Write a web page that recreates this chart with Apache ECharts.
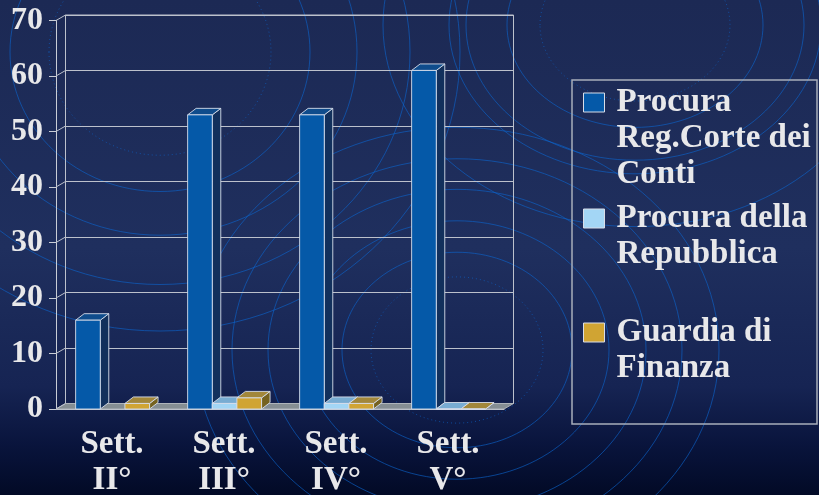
<!DOCTYPE html>
<html>
<head>
<meta charset="utf-8">
<script src="https://cdn.jsdelivr.net/npm/echarts@6/dist/echarts.min.js"></script>
<style>
  html, body { margin: 0; padding: 0; background: #0c1638; }
  #chart { width: 819px; height: 495px; }
</style>
</head>
<body>
<div id="chart"></div>
<script>
// Weekly counts per reporting body
const categories = ['Sett.\nII°', 'Sett.\nIII°', 'Sett.\nIV°', 'Sett.\nV°'];
const seriesNames = ['Procura\nReg.Corte dei\nConti', 'Procura della\nRepubblica', 'Guardia di\nFinanza'];
const corteConti = [16, 53, 53, 61];
const procuraRepubblica = [null, 1, 1, 0];
const guardiaFinanza = [1, 2, 1, 0];
const yTicks = [0, 10, 20, 30, 40, 50, 60, 70];

// Pseudo-3D geometry (pixel offsets of the depth direction)
const WALL = { dx: 9.5, dy: -5.5 };
const BAR_DEPTH = { dx: 8.5, dy: -6.5 };
const BAR_RATIO = 0.22;
const BAR_SHIFT = 0.6;
const EDGE = 'rgba(214,221,234,0.9)';
const LINE = '#bcc1cc';
const TEXT = '#e8e8ea';
const FONT = 'Liberation Serif';

const faces = [
  { front: '#0559a8', top: '#0f4c8c', side: '#12305c' },
  { front: '#a3d6f5', top: '#78acd2', side: '#5b87ad' },
  { front: '#d0a433', top: '#a2873a', side: '#75621f' }
];
const seriesValues = [corteConti, procuraRepubblica, guardiaFinanza];

function barRenderer(sIdx) {
  const f = faces[sIdx];
  return function (params, api) {
    const val = api.value(1);
    if (val == null || isNaN(val)) return null;
    const cat = api.value(0);
    const band = api.size([1, 0])[0];
    const w = band * BAR_RATIO;
    const base = api.coord([cat, 0]);
    const top = api.coord([cat, val]);
    const xL = base[0] + (sIdx - 1.5) * w + BAR_SHIFT;
    const xR = xL + w;
    const yB = base[1], yT = top[1];
    const dx = BAR_DEPTH.dx, dy = BAR_DEPTH.dy;
    return {
      type: 'group',
      children: [
        { type: 'polygon', shape: { points: [[xR, yB], [xR + dx, yB + dy], [xR + dx, yT + dy], [xR, yT]] },
          style: { fill: f.side, stroke: EDGE, lineWidth: 1 } },
        { type: 'polygon', shape: { points: [[xL, yT], [xR, yT], [xR + dx, yT + dy], [xL + dx, yT + dy]] },
          style: { fill: f.top, stroke: EDGE, lineWidth: 1 } },
        { type: 'rect', shape: { x: xL, y: yT, width: w, height: yB - yT },
          style: { fill: f.front, stroke: EDGE, lineWidth: 1 } }
      ]
    };
  };
}

// Background rings
const ringGroups = [
  { cx: 160, cy: 52, ratio: 0.93, radii: [111, 150, 197, 250, 300], dotted: 0 },
  { cx: 635, cy: 25, ratio: 0.8, radii: [95, 128, 169, 186, 252], dotted: 0 },
  { cx: 457, cy: 350, ratio: 0.85, radii: [86, 115, 152, 189, 225, 262], dotted: 0 }
];
const rings = [];
ringGroups.forEach(g => {
  g.radii.forEach((r, i) => {
    rings.push({
      type: 'ellipse', silent: true, z: -5,
      shape: { cx: g.cx, cy: g.cy, rx: r, ry: r * g.ratio },
      style: { fill: 'none', stroke: 'rgba(12,100,205,0.62)', lineWidth: 1, lineDash: i === g.dotted ? [1, 3] : null }
    });
  });
});

// One legend per series so the icon sits beside the first line of its label
const legendTops = [12.5, 164.5, 278.5];
const legends = seriesNames.map((name, i) => {
  const lines = name.split('\n').length;
  return {
    data: [name],
    left: 583, top: legendTops[i], padding: 0,
    icon: 'rect', itemWidth: 21, itemHeight: 19,
    itemStyle: { borderColor: '#d8dde8', borderWidth: 1 },
    selectedMode: false,
    formatter: n => '\n'.repeat(lines - 1) + n,
    textStyle: { fontFamily: FONT, fontWeight: 'bold', fontSize: 33, color: TEXT, lineHeight: 36, padding: [0, 0, 0, 7] }
  };
});

const chart = echarts.init(document.getElementById('chart'), null, { renderer: 'canvas' });
chart.setOption({
  animation: false,
  backgroundColor: {
    type: 'linear', x: 0, y: 0, x2: 0, y2: 1,
    colorStops: [
      { offset: 0, color: '#1c2954' },
      { offset: 0.5, color: '#1f2f5e' },
      { offset: 0.78, color: '#162453' },
      { offset: 0.9, color: '#09143c' },
      { offset: 1, color: '#020a26' }
    ]
  },
  graphic: rings.concat([
    { type: 'rect', silent: true, shape: { x: 572, y: 80, width: 245, height: 344 },
      style: { fill: 'none', stroke: '#a8aebb', lineWidth: 1.5 } }
  ]),
  legend: legends,
  grid: [
    { left: 56, top: 20.5, width: 448, height: 388.5, outerBoundsMode: 'none', containLabel: false },
    { left: 56 + WALL.dx, top: 20.5 + WALL.dy, width: 448, height: 388.5, outerBoundsMode: 'none', containLabel: false,
      show: true, borderColor: LINE, borderWidth: 1, backgroundColor: 'transparent' }
  ],
  xAxis: [
    { gridIndex: 0, type: 'category', data: categories,
      axisLine: { lineStyle: { color: '#c9cdd6', width: 1 } },
      axisTick: { length: 6, lineStyle: { color: '#c9cdd6' } },
      axisLabel: { interval: 0, margin: 17, fontFamily: FONT, fontWeight: 'bold', fontSize: 33, color: TEXT, lineHeight: 36 } },
    { gridIndex: 1, type: 'category', data: categories, show: false }
  ],
  yAxis: [
    { gridIndex: 0, type: 'value', min: 0, max: 70, interval: 10,
      axisLine: { show: true, lineStyle: { color: '#c9cdd6', width: 1 } },
      axisTick: { show: true, length: 7, lineStyle: { color: '#c9cdd6' } },
      axisLabel: { margin: 13, fontFamily: FONT, fontWeight: 'bold', fontSize: 32, color: TEXT },
      splitLine: { show: false } },
    { gridIndex: 1, type: 'value', min: 0, max: 70, interval: 10,
      axisLine: { show: false }, axisTick: { show: false }, axisLabel: { show: false },
      splitLine: { show: true, lineStyle: { color: LINE, width: 1 } } }
  ],
  series: [
    { type: 'custom', name: 'floor', silent: true, xAxisIndex: 0, yAxisIndex: 0,
      data: [[0, 0]],
      renderItem: function (params, api) {
        const cs = params.coordSys;
        const y0 = api.coord([0, 0])[1];
        return { type: 'polygon',
          shape: { points: [[cs.x, y0], [cs.x + cs.width, y0], [cs.x + cs.width + WALL.dx, y0 + WALL.dy], [cs.x + WALL.dx, y0 + WALL.dy]] },
          style: { fill: '#858e93', stroke: '#aeb4ba', lineWidth: 1 } };
      } },
    { type: 'custom', name: 'wall', silent: true, xAxisIndex: 0, yAxisIndex: 0,
      data: yTicks.map(v => [0, v]),
      renderItem: function (params, api) {
        const cs = params.coordSys;
        const y = api.coord([0, api.value(1)])[1];
        return { type: 'line', shape: { x1: cs.x, y1: y, x2: cs.x + WALL.dx, y2: y + WALL.dy },
          style: { stroke: LINE, lineWidth: 1 } };
      } }
  ].concat(seriesNames.map((name, i) => ({
    type: 'custom', name: name, silent: true, xAxisIndex: 0, yAxisIndex: 0,
    itemStyle: { color: faces[i].front },
    data: seriesValues[i].map((v, c) => [c, v]),
    encode: { x: 0, y: 1 },
    renderItem: barRenderer(i)
  })))
});
</script>
</body>
</html>
